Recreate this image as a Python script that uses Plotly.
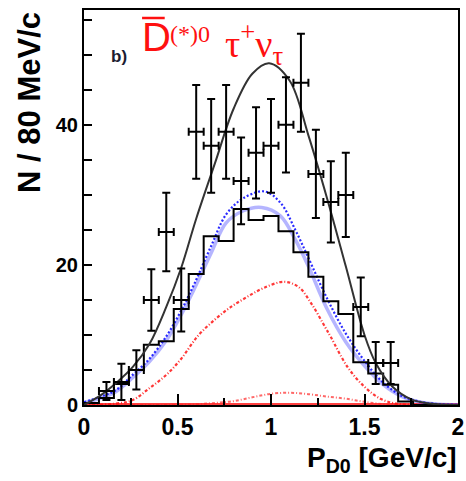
import numpy as np
import plotly.graph_objects as go

# ---- binning (80 MeV/c bins over 0-2 GeV/c) ----
bin_width = 0.08
n_bins = 25

# MC stacked histogram contents per bin
hist_counts = [0.3, 1.0, 3.0, 5.0, 8.6, 9.1, 13.7, 18.7, 24.1, 23.4, 28.0, 26.4, 27.0,
               24.8, 21.8, 18.3, 14.8, 13.0, 6.1, 4.5, 2.9, 0.5, 0.0, 0.0, 0.0]

# data points (bins 1..20) with errors
data_bins = list(range(1, 21))
data_counts = [2.0, 3.3, 5.0, 15.0, 24.7, 15.0, 39.0, 37.0, 39.0, 32.0,
               36.0, 37.0, 40.0, 46.0, 33.0, 29.0, 30.0, 14.0, 6.0, 6.0]
data_errors = [1.3, 2.6, 2.8, 4.4, 5.6, 4.5, 6.7, 6.7, 6.7, 6.2,
               6.5, 6.7, 6.8, 7.0, 6.3, 5.8, 6.0, 4.2, 3.0, 3.0]

# total fit curve
total_p = [0.0, 0.09, 0.17, 0.26, 0.35, 0.44, 0.52, 0.60, 0.70, 0.80, 0.90, 0.99,
           1.10, 1.20, 1.30, 1.40, 1.50, 1.56, 1.65, 1.75, 1.85, 2.0]
total_n = [0.0, 1.4, 3.1, 5.4, 8.7, 14.0, 19.6, 26.6, 34.5, 42.3, 47.3, 48.8,
           46.3, 38.5, 29.5, 19.8, 10.0, 6.0, 2.6, 0.8, 0.2, 0.0]

# signal component (dotted blue)
sig_p = [0.0, 0.09, 0.17, 0.26, 0.35, 0.44, 0.52, 0.59, 0.68, 0.76, 0.85, 0.965,
         1.05, 1.13, 1.20, 1.30, 1.40, 1.50, 1.60, 1.70, 1.80, 1.90, 2.0]
sig_n = [0.4, 1.2, 2.1, 4.3, 6.6, 9.8, 13.5, 17.3, 22.7, 27.2, 29.5, 30.5,
         28.9, 25.0, 21.0, 15.2, 10.2, 6.3, 3.2, 1.3, 0.45, 0.12, 0.03]

# signal shape (light blue band)
shape_p = [0.0, 0.09, 0.17, 0.26, 0.35, 0.44, 0.52, 0.59, 0.68, 0.76, 0.85, 0.95,
           1.05, 1.13, 1.20, 1.30, 1.40, 1.50, 1.60, 1.70, 1.80, 1.90, 2.0]
shape_n = [0.3, 1.0, 1.9, 3.9, 6.2, 9.2, 12.9, 16.6, 21.7, 26.0, 27.7, 28.2,
           27.0, 23.6, 19.8, 13.7, 9.0, 5.6, 2.9, 1.2, 0.4, 0.1, 0.03]

# background component (red dash-dot)
bkg_p = [0.0, 0.17, 0.26, 0.35, 0.44, 0.52, 0.61, 0.70, 0.78, 0.87, 0.96, 1.07,
         1.15, 1.22, 1.29, 1.32, 1.41, 1.50, 1.585, 1.67, 1.80, 2.0]
bkg_n = [0.0, 0.2, 0.7, 2.4, 4.3, 6.6, 9.9, 12.2, 13.9, 15.4, 16.7, 17.6,
         16.8, 14.3, 11.1, 9.7, 5.4, 2.6, 0.9, 0.2, 0.02, 0.0]

# small background component (red dotted)
small_p = [0.0, 0.5, 0.6, 0.7, 0.8, 0.9, 1.0, 1.1, 1.2, 1.3, 1.4, 1.5, 1.6, 1.7, 2.0]
small_n = [0.0, 0.02, 0.1, 0.3, 0.55, 1.1, 1.6, 1.75, 1.55, 1.2, 0.9, 0.45, 0.12, 0.02, 0.0]

# flat component along zero
flat_p = [0.0, 2.0]
flat_n = [0.15, 0.15]

# ---- derived positions ----
edges = np.arange(n_bins + 1) * bin_width
hist_x = list(edges)
hist_y = hist_counts + [hist_counts[-1]]
data_x = [(b + 0.5) * bin_width for b in data_bins]

fig = go.Figure()

fig.add_trace(go.Scatter(x=flat_p, y=flat_n, mode="lines",
                         line=dict(color="rgba(255,0,0,0.75)", width=2)))
fig.add_trace(go.Scatter(x=small_p, y=small_n, mode="lines", line_shape="spline",
                         line=dict(color="rgba(255,40,40,0.7)", width=2,
                                   dash="3px,2px,1px,2px")))
fig.add_trace(go.Scatter(x=bkg_p, y=bkg_n, mode="lines", line_shape="spline",
                         line=dict(color="rgba(255,20,20,0.85)", width=2.2,
                                   dash="3px,2px,1px,2px")))
fig.add_trace(go.Scatter(x=shape_p, y=shape_n, mode="lines", line_shape="spline",
                         line=dict(color="rgba(90,90,255,0.45)", width=3.5)))
fig.add_trace(go.Scatter(x=sig_p, y=sig_n, mode="lines", line_shape="spline",
                         line=dict(color="rgba(20,20,255,0.9)", width=2.2, dash="2px,2px")))
fig.add_trace(go.Scatter(x=hist_x, y=hist_y, mode="lines", line_shape="hv",
                         line=dict(color="black", width=2)))
fig.add_trace(go.Scatter(x=total_p, y=total_n, mode="lines", line_shape="spline",
                         line=dict(color="#333333", width=2)))
fig.add_trace(go.Scatter(
    x=data_x, y=data_counts, mode="markers",
    marker=dict(size=1, color="black"),
    error_y=dict(type="data", array=data_errors, color="black", thickness=2, width=4),
    error_x=dict(type="constant", value=bin_width / 2, color="black", thickness=2, width=4),
))

plot_l, plot_r, plot_t, plot_b = 84, 464, 10, 405
W, H = 466, 481


def px(xp):
    return (xp - plot_l) / (plot_r - plot_l)


def py(yp):
    return (plot_b - yp) / (plot_b - plot_t)


tick_font = dict(family="Liberation Sans", color="black", weight="bold")

fig.update_layout(
    width=W, height=H,
    margin=dict(l=plot_l, r=W - plot_r, t=plot_t, b=H - plot_b, pad=0),
    paper_bgcolor="white", plot_bgcolor="white",
    showlegend=False,
    xaxis=dict(range=[0, 2], showline=True, linecolor="black", linewidth=2, mirror=True,
               showgrid=False, zeroline=False, ticklabeloverflow="allow",
               ticks="inside", ticklen=11, tickwidth=2, tickcolor="black",
               tick0=0, dtick=0.5, tickfont=dict(size=23, **tick_font),
               minor=dict(ticks="inside", ticklen=7, tickwidth=2, tickcolor="black",
                          dtick=0.25, showgrid=False)),
    yaxis=dict(range=[0, 56.4], showline=True, linecolor="black", linewidth=2, mirror=True,
               showgrid=False, zeroline=False,
               ticks="inside", ticklen=8, tickwidth=2, tickcolor="black",
               tick0=0, dtick=20, tickfont=dict(size=20, **tick_font),
               minor=dict(ticks="inside", ticklen=8, tickwidth=2, tickcolor="black",
                          dtick=5, showgrid=False)),
)

annotations = [
    dict(text="<b>P<sub>D0</sub> [GeV/c]</b>", x=px(465), y=py(459),
         xanchor="right", yanchor="middle",
         font=dict(family="Liberation Sans", size=28, color="black")),
    dict(text="<b>N / 80 MeV/c</b>", x=px(28.5), y=1.0, textangle=-90,
         xanchor="center", yanchor="top",
         font=dict(family="Liberation Sans", size=31, color="black")),
    dict(text="<b>b)</b>", x=px(120), y=py(57), xanchor="center", yanchor="middle",
         font=dict(family="Liberation Sans", size=17, color="#1c1c30")),
    dict(text="D", x=px(141), y=py(37), xanchor="left", yanchor="middle",
         font=dict(family="Liberation Sans", size=40, color="#ff1010")),
    dict(text="(*)0", x=px(169), y=py(34), xanchor="left", yanchor="middle",
         font=dict(family="Liberation Serif", size=24, color="#ff1010")),
    dict(text="τ<sup>+</sup>ν<sub>τ</sub>", x=px(225), y=py(44), xanchor="left",
         yanchor="middle",
         font=dict(family="Liberation Serif", size=38, color="#ff1010")),
]
for a in annotations:
    a.update(xref="paper", yref="paper", showarrow=False)
fig.update_layout(annotations=annotations)

# bar over the D
fig.add_shape(type="line", xref="paper", yref="paper",
              x0=px(143), x1=px(166), y0=py(18), y1=py(18),
              line=dict(color="#ff1010", width=2.5))

fig.write_html("out.html")
